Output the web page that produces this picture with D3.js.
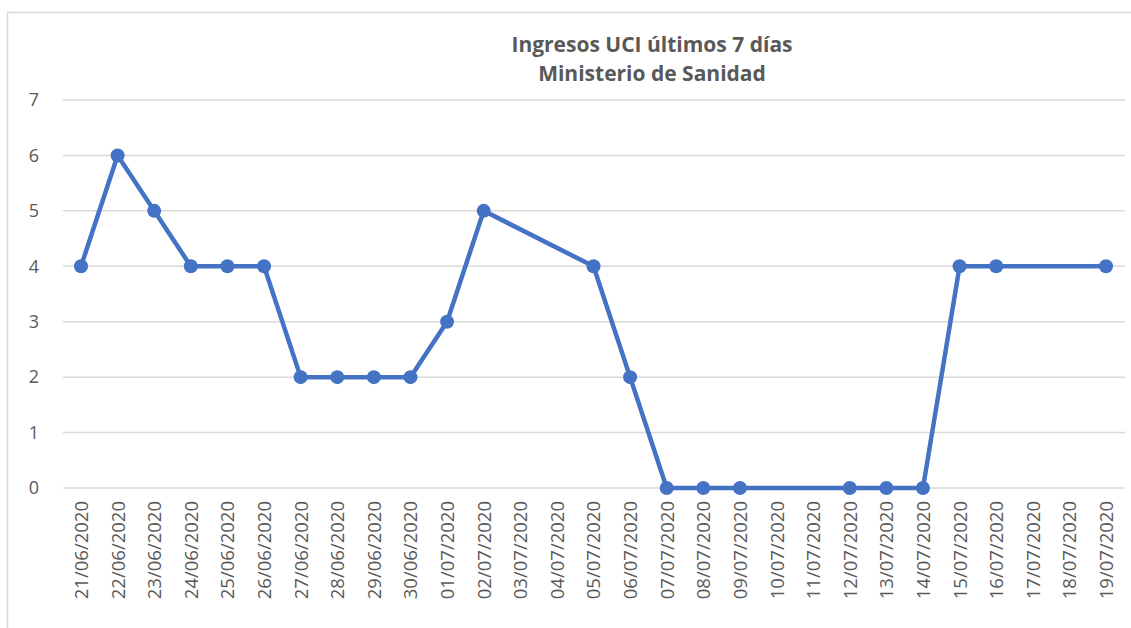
<!DOCTYPE html>
<html>
<head>
<meta charset="utf-8">
<script src="https://cdn.jsdelivr.net/npm/d3@7"></script>
<style>
  body { margin: 0; background: #fff; }
  text { font-family: "Open Sans", "Noto Sans", sans-serif; fill: #595959; }
  .title { font-weight: bold; font-size: 21px; }
</style>
</head>
<body>
<div id="chart"></div>
<script>
// Data
var dates = ["21/06/2020","22/06/2020","23/06/2020","24/06/2020","25/06/2020","26/06/2020",
  "27/06/2020","28/06/2020","29/06/2020","30/06/2020","01/07/2020","02/07/2020",
  "05/07/2020","06/07/2020","07/07/2020","08/07/2020","09/07/2020","12/07/2020",
  "13/07/2020","14/07/2020","15/07/2020","16/07/2020","19/07/2020"];
var ingresos = [4,6,5,4,4,4,2,2,2,2,3,5,4,2,0,0,0,0,0,0,4,4,4];
var yTicks = [0,1,2,3,4,5,6,7];
var titleLines = ["Ingresos UCI últimos 7 días", "Ministerio de Sanidad"];

var W = 1131, H = 628;
var parse = d3.utcParse("%d/%m/%Y");
var fmt = d3.utcFormat("%d/%m/%Y");

var data = dates.map(function(d, i) { return {date: parse(d), value: ingresos[i]}; });

var svg = d3.select("#chart").append("svg")
  .attr("width", W).attr("height", H);

// chart area border
svg.append("rect")
  .attr("x", 7.5).attr("y", 12.5)
  .attr("width", W + 10).attr("height", H + 10)
  .attr("fill", "none").attr("stroke", "#d9d9d9").attr("stroke-width", 1.5);

var first = data[0].date, last = data[data.length - 1].date;
var x = d3.scaleUtc().domain([first, last]).range([81, 1106]);
var y = d3.scaleLinear().domain([0, 7]).range([488, 100]);

// gridlines
svg.append("g").selectAll("line")
  .data(yTicks)
  .enter().append("line")
  .attr("x1", 63).attr("x2", 1125)
  .attr("y1", function(d) { return y(d); })
  .attr("y2", function(d) { return y(d); })
  .attr("stroke", "#d9d9d9").attr("stroke-width", 1.5);

// y axis labels
var yAxis = svg.append("g")
  .attr("transform", "translate(39,0)")
  .call(d3.axisLeft(y).tickValues(yTicks).tickFormat(d3.format("d")).tickSize(0).tickPadding(0));
yAxis.select(".domain").remove();
yAxis.selectAll("text")
  .attr("fill", "#595959")
  .style("font-family", "'Open Sans', sans-serif")
  .style("font-size", "18px");

// x axis, one tick per day
var days = d3.utcDay.range(first, d3.utcDay.offset(last, 1));
var xAxis = svg.append("g")
  .attr("transform", "translate(0,488)")
  .call(d3.axisBottom(x).tickValues(days).tickFormat(fmt).tickSize(0));
xAxis.select(".domain").remove();
xAxis.selectAll("text")
  .attr("fill", "#595959")
  .style("font-family", "'Open Sans', sans-serif")
  .style("font-size", "18.5px")
  .attr("transform", "rotate(-90)")
  .attr("text-anchor", "end")
  .attr("x", -13)
  .attr("y", 0)
  .attr("dy", "0.35em");

// line
var line = d3.line()
  .x(function(d) { return x(d.date); })
  .y(function(d) { return y(d.value); });

svg.append("path")
  .datum(data)
  .attr("d", line)
  .attr("fill", "none")
  .attr("stroke", "#4472C4")
  .attr("stroke-width", 4.5)
  .attr("stroke-linejoin", "round");

svg.append("g").selectAll("circle")
  .data(data)
  .enter().append("circle")
  .attr("cx", function(d) { return x(d.date); })
  .attr("cy", function(d) { return y(d.value); })
  .attr("r", 7)
  .attr("fill", "#4472C4");

// title
svg.append("g").selectAll("text")
  .data(titleLines)
  .enter().append("text")
  .attr("class", "title")
  .attr("x", 652)
  .attr("y", function(d, i) { return 52 + i * 29; })
  .attr("text-anchor", "middle")
  .text(function(d) { return d; });
</script>
</body>
</html>
